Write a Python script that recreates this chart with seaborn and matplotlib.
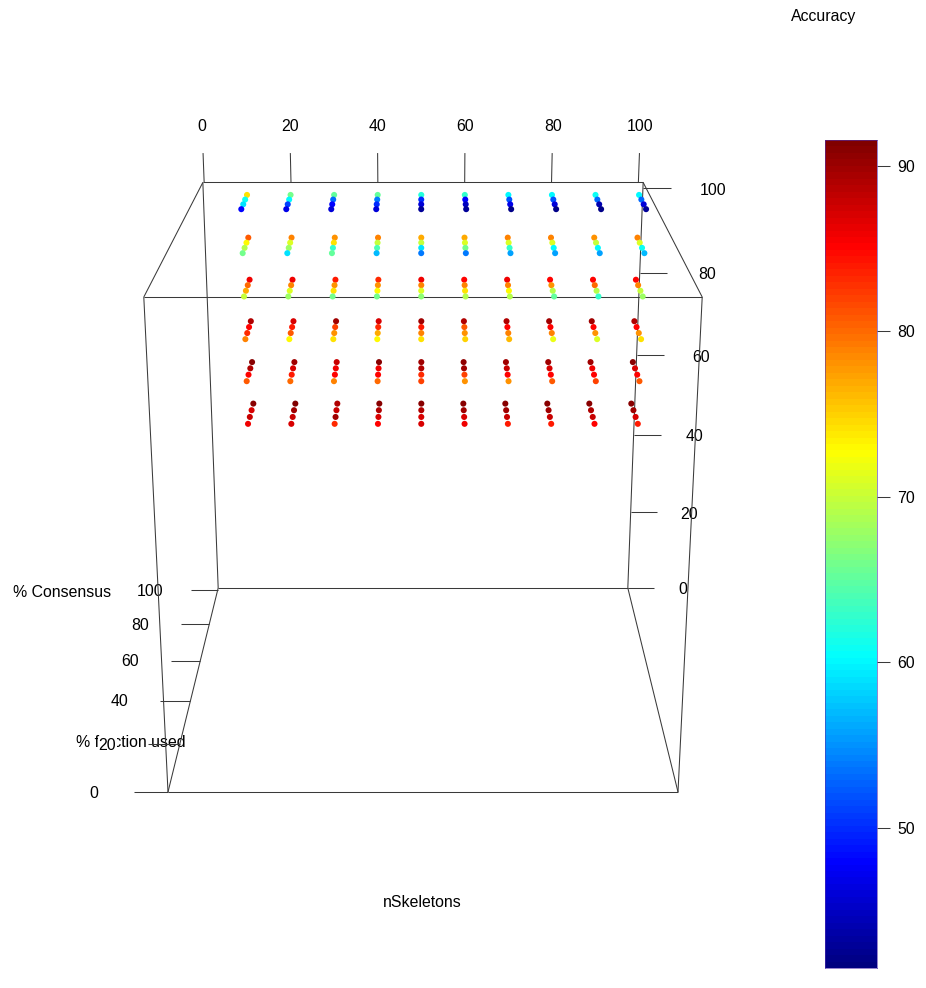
import numpy as np
import pandas as pd
import matplotlib
matplotlib.use("Agg")
import matplotlib.pyplot as plt
from matplotlib.colors import LinearSegmentedColormap
import seaborn as sns

sns.set_style("white")
plt.rcParams['font.family'] = ['Liberation Sans', 'DejaVu Sans']

n_skeletons = [10, 20, 30, 40, 50, 60, 70, 80, 90, 100]
fraction_used = [99, 94, 89, 84]
consensus = [99, 89, 79, 69, 59, 48.7]
axis_ticks = [0, 20, 40, 60, 80, 100]
bar_ticks = [90, 80, 70, 60, 50]

# accuracy per consensus level: one [four fraction values] per nSkeletons value
acc_c100 = [[74, 61, 59, 48], [66, 60, 51, 47], [65, 53, 48, 46], [65, 54, 50, 46], [62, 50, 46, 43],
            [63, 48, 45, 43], [60, 52, 47, 42], [60, 52, 46, 42], [61, 53, 44, 42], [60, 53, 46, 43]]
acc_c90 = [[81, 73, 69, 66], [79, 71, 68, 59], [78, 74, 63, 65], [79, 70, 64, 57], [77, 70, 59, 54],
           [77, 71, 66, 54], [79, 71, 63, 56], [79, 71, 60, 56], [78, 70, 60, 56], [79, 71, 61, 57]]
acc_c80 = [[86, 80, 77, 70], [86, 79, 71, 68], [84, 78, 74, 66], [83, 78, 73, 66], [86, 79, 71, 67],
           [85, 79, 74, 69], [86, 79, 73, 69], [85, 78, 69, 65], [85, 80, 69, 63], [85, 79, 70, 68]]
acc_c70 = [[89, 85, 83, 79], [87, 84, 81, 73], [90, 82, 78, 74], [87, 83, 77, 73], [90, 84, 79, 74],
           [89, 81, 78, 75], [89, 85, 79, 76], [90, 85, 79, 72], [90, 85, 78, 71], [89, 85, 78, 74]]
acc_c60 = [[91, 89, 85, 81], [90, 87, 84, 80], [88, 86, 85, 79], [91, 86, 85, 80], [90, 89, 83, 82],
           [90.5, 90, 82, 78], [90, 88, 85, 78], [90, 87, 85, 81], [90, 86, 85, 82], [91, 87, 85, 81]]
acc_c50 = [[91, 87, 88, 86], [91.5, 90, 88, 87], [89, 88, 90, 83], [91, 89, 87, 85], [91, 89, 87, 87],
           [91, 90, 87, 86], [91, 90, 88, 84], [91, 90, 88, 84], [91, 89, 88, 85], [91, 90, 87, 84]]
accuracy = [acc_c100, acc_c90, acc_c80, acc_c70, acc_c60, acc_c50]

V_MIN, V_MAX = 41.54, 91.57
AXIS_MAX = 101.4
X_OFFSET = 0.3


def project(u, v, t):
    """Perspective view of the unit box (u across, v into the page, t upward) in figure pixels."""
    u, v, t = np.asarray(u, float), np.asarray(v, float), np.asarray(t, float)
    w = 1 + 0.245 * v - 0.0867 * t
    return 423 + 255 * (2 * u - 1) / w, (792 - 60 * v - 520.7 * t) / w


rows = []
for fi, f in enumerate(fraction_used):
    for ci, c in enumerate(consensus):
        for si, s in enumerate(n_skeletons):
            rows.append((s, f, c, accuracy[ci][si][fi]))
df = pd.DataFrame(rows, columns=["nSkeletons", "fraction", "consensus", "accuracy"])
df["px"], df["py"] = project((df.nSkeletons + X_OFFSET) / AXIS_MAX, df.fraction / AXIS_MAX, df.consensus / AXIS_MAX)

jet128 = LinearSegmentedColormap.from_list(
    "matlab_jet",
    [(0, (0, 0, 0.5)), (0.125, (0, 0, 1)), (0.375, (0, 1, 1)),
     (0.625, (1, 1, 0)), (0.875, (1, 0, 0)), (1, (0.5, 0, 0))], N=128)

fig = plt.figure(figsize=(9.26, 9.88), dpi=100)
ax = fig.add_axes([0, 0, 1, 1])
ax.set_xlim(0, 926)
ax.set_ylim(988, 0)
ax.axis("off")

LINE = dict(color="#3a3a3a", lw=0.75, zorder=3, solid_capstyle="butt")
TEXT = dict(fontsize=11.4, color="black", ha="center", va="center")


def seg(a, b):
    x, y = project(*zip(a, b))
    ax.plot(x, y, **LINE)


corners = {"A": (0, 0, 0), "B": (1, 0, 0), "C": (1, 1, 0), "D": (0, 1, 0),
           "E": (0, 0, 1), "F": (1, 0, 1), "H": (1, 1, 1), "G": (0, 1, 1)}
for e in ["AB", "BC", "CD", "DA", "EF", "FH", "HG", "GE", "AE", "BF", "CH", "DG"]:
    seg(corners[e[0]], corners[e[1]])

for v in axis_ticks:
    r = v / AXIS_MAX
    # nSkeletons along the top back edge
    rx = (v + X_OFFSET) / AXIS_MAX
    seg((rx, 1, 1), (rx, 1, 1.067))
    x, y = project(rx, 1, 1.13)
    ax.text(x, y + 1, str(v), zorder=2, **TEXT)
    # vertical axis on the back right edge
    seg((1, 1, r), (1.064, 1, r))
    x, y = project(1.135 + 0.025 * v / 100, 1, r)
    ax.text(x, y + 2, str(v), zorder=2, **TEXT)
    # depth axis along the floor's left edge
    seg((0, r, 0), (-0.066, r, 0))
    x, y = project(-0.145 - 0.02 * v / 100, r, 0)
    ax.text(x, y + 1, str(v), zorder=2,
            bbox=dict(facecolor="white", edgecolor="none", pad=0.3), **TEXT)

ax.text(422, 902, "nSkeletons", zorder=1, **TEXT)
ax.text(62, 592, "% Consensus", zorder=1, **TEXT)
ax.text(131, 742, "% fraction used", zorder=1, **TEXT)
ax.text(824, 17, "Accuracy", zorder=1, **TEXT)

sns.scatterplot(data=df, x="px", y="py", hue="accuracy", palette=jet128,
                hue_norm=(V_MIN, V_MAX), s=19, linewidth=0, legend=False,
                ax=ax, zorder=4)
ax.set_xlim(0, 926)
ax.set_ylim(988, 0)

# colour bar
cax = fig.add_axes([825 / 926, 1 - 968 / 988, 52 / 926, 828 / 988])
levels = np.linspace(V_MAX, V_MIN, 128).reshape(-1, 1)
sns.heatmap(levels, cmap=jet128, vmin=V_MIN, vmax=V_MAX, cbar=False, ax=cax,
            xticklabels=False, yticklabels=False)
cax.set_yticks([(V_MAX - b) / (V_MAX - V_MIN) * 128 for b in bar_ticks])
cax.set_yticklabels([str(b) for b in bar_ticks], rotation=0, fontsize=11.4, color="black")
cax.yaxis.tick_right()
cax.tick_params(axis="y", length=9.4, width=0.75, color="#3a3a3a", pad=5, right=True, left=False)
for side in cax.spines.values():
    side.set_visible(True)
    side.set_color("#5030b0")
    side.set_linewidth(0.6)
    side.set_alpha(0.7)

fig.savefig("out.png", dpi=100)
